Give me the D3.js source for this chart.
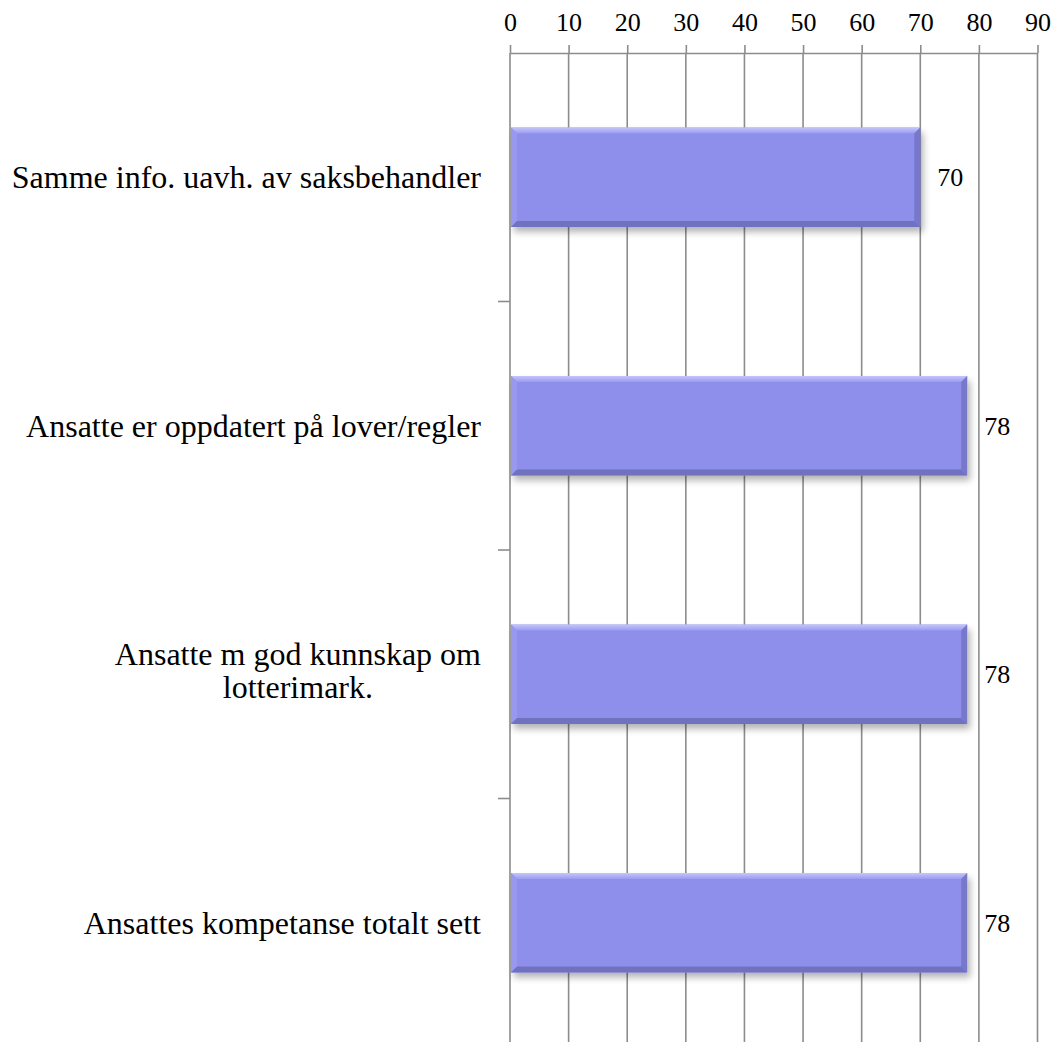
<!DOCTYPE html>
<html>
<head>
<meta charset="utf-8">
<script src="https://cdn.jsdelivr.net/npm/d3@7"></script>
<style>
  html, body { margin: 0; padding: 0; background: #ffffff; }
  svg { display: block; }
  svg text { font-family: "Liberation Serif", "Times New Roman", serif; }
</style>
</head>
<body>
<script>
const categories = [
  "Samme info. uavh. av saksbehandler",
  "Ansatte er oppdatert på lover/regler",
  "Ansatte m god kunnskap om\nlotterimark.",
  "Ansattes kompetanse totalt sett"
];
const values = [70, 78, 78, 78];
const tickValues = [0, 10, 20, 30, 40, 50, 60, 70, 80, 90];

const W = 1053, H = 1042;
const margin = { left: 510, right: 16, top: 53, bottom: -5 };
const GRID = "#8c8c8c";
const BAR = "#8e8feb";

const svg = d3.select("body").append("svg").attr("width", W).attr("height", H);
const defs = svg.append("defs");

const shadow = defs.append("filter").attr("id", "shadow")
  .attr("x", "-5%").attr("y", "-10%").attr("width", "115%").attr("height", "140%");
shadow.append("feGaussianBlur").attr("in", "SourceAlpha").attr("stdDeviation", 3.5).attr("result", "b");
shadow.append("feOffset").attr("in", "b").attr("dx", 3).attr("dy", 5).attr("result", "o");
shadow.append("feComponentTransfer").attr("in", "o").attr("result", "s")
  .append("feFuncA").attr("type", "linear").attr("slope", 0.3);
const mg = shadow.append("feMerge");
mg.append("feMergeNode").attr("in", "s");
mg.append("feMergeNode").attr("in", "SourceGraphic");

const topGrad = defs.append("linearGradient").attr("id", "topG").attr("x1", 0).attr("y1", 0).attr("x2", 0).attr("y2", 1);
topGrad.append("stop").attr("offset", "0%").attr("stop-color", "#c4c5fa");
topGrad.append("stop").attr("offset", "100%").attr("stop-color", "#9a9bf0");

const x = d3.scaleLinear().domain([0, 90]).range([margin.left, W - margin.right + 0.5]);
const y = d3.scaleBand().domain(categories).range([margin.top, H - margin.bottom])
  .paddingInner(0.6).paddingOuter(0.3);
const yOuter = d3.scaleBand().domain(categories).range([margin.top, H - margin.bottom]).padding(0);

// gridlines
svg.append("g").selectAll("line").data(tickValues.slice(1)).join("line")
  .attr("x1", d => x(d)).attr("x2", d => x(d))
  .attr("y1", margin.top).attr("y2", H)
  .attr("stroke", GRID).attr("stroke-width", 1.6);

// top axis
const xAxis = svg.append("g").attr("transform", `translate(0,${margin.top})`)
  .call(d3.axisTop(x).tickValues(tickValues).tickSize(8).tickPadding(14).tickSizeOuter(0));
xAxis.attr("font-family", null);
xAxis.select(".domain").attr("stroke", GRID).attr("stroke-width", 1.6);
xAxis.selectAll(".tick line").attr("stroke", GRID).attr("stroke-width", 1.6);
xAxis.selectAll(".tick text").attr("font-size", 26).attr("fill", "#000");

// left axis: line + ticks at category boundaries
svg.append("line").attr("x1", x(0)).attr("x2", x(0)).attr("y1", margin.top).attr("y2", H)
  .attr("stroke", GRID).attr("stroke-width", 1.6);
svg.append("g").selectAll("line").data(categories.slice(1)).join("line")
  .attr("x1", x(0) - 12).attr("x2", x(0))
  .attr("y1", d => yOuter(d)).attr("y2", d => yOuter(d))
  .attr("stroke", GRID).attr("stroke-width", 1.6);

// bars with bevel
const bev = 6;
const bars = svg.append("g").selectAll("g").data(categories).join("g");
bars.each(function(c, i) {
  const g = d3.select(this);
  const x0 = x(0) + 1, x1 = x(values[i]), y0 = y(c), y1 = y(c) + y.bandwidth();
  g.append("rect").attr("x", x0).attr("y", y0).attr("width", x1 - x0).attr("height", y1 - y0)
    .attr("fill", BAR).attr("filter", "url(#shadow)");
  g.append("path").attr("d", `M${x0},${y0}L${x1},${y0}L${x1 - bev},${y0 + bev}L${x0 + bev},${y0 + bev}Z`)
    .attr("fill", "url(#topG)");
  g.append("path").attr("d", `M${x0},${y0}L${x0 + bev},${y0 + bev}L${x0 + bev},${y1 - bev}L${x0},${y1}Z`)
    .attr("fill", "#9798ee");
  g.append("path").attr("d", `M${x1},${y0}L${x1},${y1}L${x1 - bev},${y1 - bev}L${x1 - bev},${y0 + bev}Z`)
    .attr("fill", "#7778cc");
  g.append("path").attr("d", `M${x0},${y1}L${x1},${y1}L${x1 - bev},${y1 - bev}L${x0 + bev},${y1 - bev}Z`)
    .attr("fill", "#7071bf");
  g.append("text").attr("x", x1 + 17).attr("y", (y0 + y1) / 2).attr("dy", "0.35em")
    .attr("font-size", 26).attr("fill", "#000").text(values[i]);
});

// category labels
const LABEL_SIZE = 32;
svg.append("g").selectAll("text").data(categories).join("text")
  .attr("font-size", LABEL_SIZE).attr("fill", "#000")
  .each(function(c) {
    const t = d3.select(this);
    const lines = c.split("\n");
    const cy = y(c) + y.bandwidth() / 2;
    const lh = 33;
    if (lines.length === 1) {
      t.attr("text-anchor", "end").attr("x", 481).attr("y", cy).attr("dy", "0.35em").text(lines[0]);
    } else {
      t.attr("text-anchor", "middle");
      const tmp = svg.append("text").attr("font-size", LABEL_SIZE).text(lines[0]);
      const wmax = d3.max(lines, l => { tmp.text(l); return tmp.node().getComputedTextLength(); });
      tmp.remove();
      const cx = 481 - wmax / 2;
      lines.forEach((l, k) => {
        t.append("tspan").attr("x", cx)
          .attr("y", cy - 4 + (k - (lines.length - 1) / 2) * lh).attr("dy", "0.35em").text(l);
      });
    }
  });
</script>
</body>
</html>
